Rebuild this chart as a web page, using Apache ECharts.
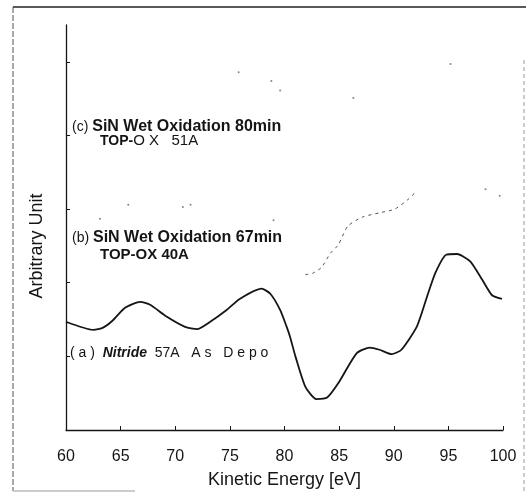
<!DOCTYPE html>
<html><head><meta charset="utf-8">
<script src="https://cdn.jsdelivr.net/npm/echarts@6/dist/echarts.min.js"></script>
<style>html,body{margin:0;padding:0;background:#fff}#c{width:526px;height:494px}</style>
</head><body><div id="c"></div>
<script>
// Curve (a) Nitride 57A As Depo : kinetic energy [eV] vs arbitrary unit
var energyA = [60.0,62.5,63.4,64.3,65.4,66.8,67.7,69.2,70.9,72.0,73.2,74.7,75.9,77.9,78.7,79.6,80.2,80.5,81.0,81.9,82.9,83.9,84.9,86.6,87.8,88.7,89.8,90.7,92.1,93.0,93.8,94.8,95.8,97.0,98.1,99.0,99.9];
var valueA  = [1.47,1.36,1.39,1.49,1.66,1.74,1.70,1.54,1.40,1.37,1.47,1.63,1.78,1.92,1.85,1.63,1.40,1.27,1.00,0.59,0.42,0.44,0.63,1.04,1.12,1.09,1.03,1.09,1.40,1.79,2.13,2.38,2.39,2.29,2.04,1.83,1.78];
// Curve (b): faint visible fragment of the trace (scan lost most of it)
var energyBfrag = [81.9,82.6,83.4,84.2,84.9,85.8,87.1,88.7,90.1,91.3,92.0];
var valueBfrag  = [2.11,2.13,2.21,2.40,2.51,2.77,2.89,2.95,3.00,3.13,3.23];
var energyBdots = [63.1,65.7,70.7,71.4,79.0,98.4,99.7];
var valueBdots  = [2.87,3.06,3.03,3.06,2.85,3.27,3.18];
// Curve (c): faint dots only
var energyCdots = [75.8,78.8,79.6,86.3,95.2];
var valueCdots  = [4.86,4.74,4.61,4.51,4.97];
// Axis ticks
var xTicks = [60,65,70,75,80,85,90,95,100];
var yTicks = [0,1,2,3,4,5];

function pairs(a,b){return a.map(function(v,i){return [v,b[i]];});}

var chart = echarts.init(document.getElementById('c'), null, {renderer:'canvas'});
var F = '"Liberation Sans", Arial, sans-serif';
var ink = '#151515';
chart.setOption({
  backgroundColor:'#fff',
  animation:false,
  grid:{left:66,right:23,top:25,bottom:64,containLabel:false,outerBoundsMode:'none'},
  xAxis:{type:'value',min:xTicks[0],max:xTicks[xTicks.length-1],interval:5,
    axisLine:{show:true,lineStyle:{color:ink,width:1.3}},
    axisTick:{show:true,inside:true,length:4,lineStyle:{color:ink}},
    axisLabel:{fontSize:16,color:ink,fontFamily:F,margin:19},
    splitLine:{show:false},
    name:'Kinetic Energy [eV]',nameLocation:'middle',nameGap:41,
    nameTextStyle:{fontSize:18,color:ink,fontFamily:F}
  },
  yAxis:{type:'value',min:0,max:5.5,interval:1,
    axisLine:{show:true,lineStyle:{color:ink,width:1.3}},
    axisTick:{show:true,inside:true,length:4,customValues:yTicks,lineStyle:{color:ink}},
    axisLabel:{show:false},
    splitLine:{show:false}
  },
  series:[
    {type:'line',data:pairs(energyA,valueA),symbol:'none',smooth:0.2,
     lineStyle:{color:ink,width:1.8},z:5},
    {type:'line',data:pairs(energyBfrag,valueBfrag),symbol:'none',smooth:0.2,
     lineStyle:{color:'#555',width:1,type:[3,4]}},
    {type:'scatter',data:pairs(energyBdots,valueBdots),symbolSize:2,itemStyle:{color:'#666'}},
    {type:'scatter',data:pairs(energyCdots,valueCdots),symbolSize:2,itemStyle:{color:'#666'}}
  ],
  graphic:[
    {type:'line',shape:{x1:13,y1:7,x2:526,y2:7},style:{stroke:'#222',lineWidth:1.4}},
    {type:'line',shape:{x1:13,y1:7,x2:13,y2:491},style:{stroke:'#555',lineWidth:1,lineDash:[6,2]}},
    {type:'line',shape:{x1:524,y1:60,x2:524,y2:494},style:{stroke:'#999',lineWidth:1,lineDash:[4,3]}},
    {type:'line',shape:{x1:13,y1:491,x2:135,y2:491},style:{stroke:'#bbb',lineWidth:1.5}},
    {type:'text',x:37,y:246,rotation:Math.PI/2,
     style:{text:'Arbitrary Unit',font:'18px '+F,fill:ink,align:'center',verticalAlign:'middle'}},
    {type:'text',x:72,y:127,
     style:{text:'{r|(c) }{b|SiN Wet Oxidation 80min}',verticalAlign:'middle',
      rich:{r:{font:'14px '+F,fill:ink},b:{font:'bold 16px '+F,fill:ink}}}},
    {type:'text',x:100,y:141,
     style:{text:'{b|TOP-}{r|O X   51A}',verticalAlign:'middle',
      rich:{r:{font:'15px '+F,fill:ink},b:{font:'bold 14px '+F,fill:ink}}}},
    {type:'text',x:72,y:238,
     style:{text:'{r|(b) }{b|SiN Wet Oxidation 67min}',verticalAlign:'middle',
      rich:{r:{font:'14px '+F,fill:ink},b:{font:'bold 16px '+F,fill:ink}}}},
    {type:'text',x:100,y:255,
     style:{text:'{b|TOP-OX 40A}',verticalAlign:'middle',
      rich:{b:{font:'bold 15px '+F,fill:ink}}}},
    {type:'text',x:70,y:353,
     style:{text:'{r|( a )  }{b|Nitride}{r|  57A   A s   D e p o}',verticalAlign:'middle',
      rich:{r:{font:'14px '+F,fill:ink},b:{font:'italic bold 14px '+F,fill:ink}}}}
  ]
});
</script></body></html>
